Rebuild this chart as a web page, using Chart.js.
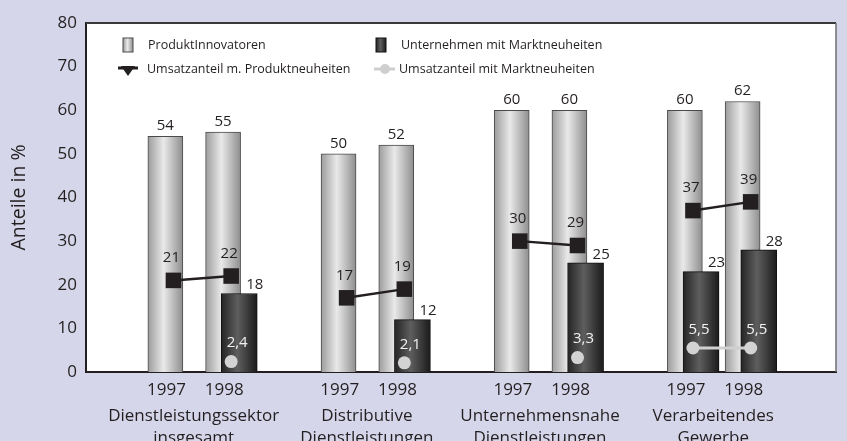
<!DOCTYPE html>
<html>
<head>
<meta charset="utf-8">
<script src="https://cdn.jsdelivr.net/npm/chart.js@4.4.1/dist/chart.umd.min.js"></script>
<style>
  html, body { margin: 0; padding: 0; background: #d6d6ea; }
  #wrap { width: 847px; height: 441px; }
</style>
</head>
<body>
<div id="wrap"><canvas id="chart"></canvas></div>
<script>
// data
const groupLabels = [
    ['Dienstleistungssektor', 'insgesamt'],
    ['Distributive', 'Dienstleistungen'],
    ['Unternehmensnahe', 'Dienstleistungen'],
    ['Verarbeitendes', 'Gewerbe']
];
const yearLabels = ['1997', '1998'];
const produktInnovatoren = [54, 55, 50, 52, 60, 60, 60, 62];
const unternehmenMarkt = [null, 18, null, 12, null, 25, 23, 28];
const umsatzProdukt = [21, 22, 17, 19, 30, 29, 37, 39];
const umsatzMarkt = [null, 2.4, null, 2.1, null, 3.3, 5.5, 5.5];
const yTicks = [0, 10, 20, 30, 40, 50, 60, 70, 80];

const TEXT = '#231f20';
const BG = '#d6d6ea';
const BAR_SHIFT = 0.14;   // light bar left, dark bar right of the year slot
const LABEL_SHIFT = 0.12;

// slot i -> x position: 3 units per group, 1 unit per year
const slotX = produktInnovatoren.map((v, i) => 1 + 3 * Math.floor(i / 2) + (i % 2));

function linePoints(values) {
    const pts = [];
    values.forEach((v, i) => {
        pts.push({ x: slotX[i], y: v });
        if (i % 2 === 1) pts.push({ x: slotX[i] + 1, y: null }); // break between groups
    });
    return pts;
}

const lightStops = [[0, '#9c9c9c'], [0.45, '#e9e9e9'], [1, '#8e8e8e']];
const darkStops = [[0, '#262626'], [0.45, '#5e5e5e'], [1, '#1c1c1c']];

function makeGradient(ctx, x0, x1, stops) {
    const g = ctx.createLinearGradient(x0, 0, x1, 0);
    stops.forEach(s => g.addColorStop(s[0], s[1]));
    return g;
}

function barFill(stops) {
    return (c) => {
        const chart = c.chart;
        if (!chart.chartArea || c.type !== 'data' || !chart.scales.x) return stops[1][1];
        const cx = chart.scales.x.getPixelForValue(c.raw.x);
        return makeGradient(chart.ctx, cx - 17.5, cx + 17.5, stops);
    };
}

const fmt = v => String(v).replace('.', ',');

const backgroundPlugin = {
    id: 'background',
    beforeDraw(chart) {
        const { ctx, chartArea: a } = chart;
        ctx.save();
        ctx.fillStyle = BG;
        ctx.fillRect(0, 0, chart.width, chart.height);
        ctx.fillStyle = '#ffffff';
        ctx.fillRect(a.left, a.top, a.right - a.left, a.bottom - a.top);
        ctx.restore();
    },
    afterDraw(chart) {
        const { ctx, chartArea: a } = chart;
        ctx.save();
        ctx.strokeStyle = '#3a3a3a';
        ctx.lineWidth = 2;
        ctx.beginPath();
        ctx.moveTo(a.left, a.top);
        ctx.lineTo(a.right, a.top);
        ctx.stroke();
        ctx.strokeStyle = '#6e6e6e';
        ctx.lineWidth = 1.5;
        ctx.beginPath();
        ctx.moveTo(a.right, a.top);
        ctx.lineTo(a.right, a.bottom);
        ctx.stroke();
        ctx.restore();
    }
};

const valueLabelPlugin = {
    id: 'valueLabels',
    afterDatasetsDraw(chart) {
        const ctx = chart.ctx;
        ctx.save();
        ctx.font = '15px "Open Sans", sans-serif';
        ctx.textBaseline = 'bottom';
        chart.data.datasets.forEach((ds, di) => {
            const meta = chart.getDatasetMeta(di);
            meta.data.forEach((el, i) => {
                const raw = ds.data[i];
                if (!raw || raw.y === null) return;
                const t = fmt(raw.y);
                if (di === 0) {
                    ctx.fillStyle = TEXT; ctx.textAlign = 'center';
                    ctx.fillText(t, el.x, el.y - 3);
                } else if (di === 1) {
                    ctx.fillStyle = TEXT; ctx.textAlign = 'left';
                    ctx.fillText(t, el.x + 7, el.y - 1);
                } else if (di === 2) {
                    ctx.fillStyle = TEXT; ctx.textAlign = 'center';
                    ctx.fillText(t, el.x - 2, el.y - 15);
                } else {
                    ctx.fillStyle = '#f2f2f2'; ctx.textAlign = 'center';
                    ctx.fillText(t, el.x + 6, el.y - 11);
                }
            });
        });
        ctx.restore();
    }
};

const legendPlugin = {
    id: 'boxLegend',
    afterDraw(chart) {
        const ctx = chart.ctx;
        const ds = chart.data.datasets;
        const cols = [128, 381];
        const rows = [45, 69];
        ctx.save();
        ctx.font = '12.5px "Open Sans", sans-serif';
        ctx.textBaseline = 'middle';
        ctx.textAlign = 'left';
        ctx.fillStyle = TEXT;
        // bars
        [[0, lightStops, '#4a4a4a'], [1, darkStops, '#111']].forEach(([di, stops, edge], k) => {
            const cx = cols[k], cy = rows[0];
            ctx.fillStyle = makeGradient(ctx, cx - 5, cx + 5, stops);
            ctx.fillRect(cx - 5, cy - 7, 10, 14);
            ctx.strokeStyle = edge; ctx.lineWidth = 1;
            ctx.strokeRect(cx - 5, cy - 7, 10, 14);
            ctx.fillStyle = TEXT;
            ctx.fillText(ds[di].label, cx + 20, cy);
        });
        // black line with triangle
        let cx = cols[0], cy = rows[1];
        ctx.strokeStyle = TEXT; ctx.lineWidth = 3;
        ctx.beginPath(); ctx.moveTo(cx - 10, cy - 1); ctx.lineTo(cx + 10, cy - 1); ctx.stroke();
        ctx.fillStyle = TEXT;
        ctx.beginPath(); ctx.moveTo(cx - 7, cy - 3); ctx.lineTo(cx + 7, cy - 3); ctx.lineTo(cx, cy + 7); ctx.closePath(); ctx.fill();
        ctx.fillText(ds[2].label, cx + 19, cy);
        // gray line with circle
        cx = cols[1];
        ctx.strokeStyle = '#cfcfcf'; ctx.lineWidth = 3;
        ctx.beginPath(); ctx.moveTo(cx - 7, cy); ctx.lineTo(cx + 14, cy); ctx.stroke();
        ctx.fillStyle = '#cfcfcf';
        ctx.beginPath(); ctx.arc(cx + 4, cy, 5, 0, Math.PI * 2); ctx.fill();
        ctx.fillStyle = TEXT;
        ctx.fillText(ds[3].label, cx + 18, cy);
        ctx.restore();
    }
};

Chart.defaults.font.family = '"Open Sans", sans-serif';
Chart.defaults.color = TEXT;

const ctx = document.getElementById('chart').getContext('2d');
const myChart = new Chart(ctx, {
    type: 'bar',
    data: {
        datasets: [
            {
                label: 'ProduktInnovatoren',
                data: produktInnovatoren.map((v, i) => ({ x: slotX[i] - BAR_SHIFT, y: v })),
                backgroundColor: barFill(lightStops),
                borderColor: '#4a4a4a',
                borderWidth: 1,
                barThickness: 35,
                grouped: false,
                order: 4
            },
            {
                label: 'Unternehmen mit Marktneuheiten',
                data: unternehmenMarkt.map((v, i) => ({ x: slotX[i] + BAR_SHIFT, y: v })),
                backgroundColor: barFill(darkStops),
                borderColor: '#111111',
                borderWidth: 1,
                barThickness: 36,
                grouped: false,
                order: 3
            },
            {
                type: 'line',
                label: 'Umsatzanteil m. Produktneuheiten',
                data: linePoints(umsatzProdukt),
                borderColor: TEXT,
                borderWidth: 2.5,
                pointStyle: 'rect',
                pointRadius: 11,
                pointBackgroundColor: TEXT,
                pointBorderWidth: 0,
                spanGaps: false,
                order: 1
            },
            {
                type: 'line',
                label: 'Umsatzanteil mit Marktneuheiten',
                data: linePoints(umsatzMarkt),
                borderColor: '#d0d0d0',
                borderWidth: 3,
                pointStyle: 'circle',
                pointRadius: 6.5,
                pointBackgroundColor: '#d3d3d3',
                pointBorderWidth: 0,
                spanGaps: false,
                order: 0
            }
        ]
    },
    options: {
        responsive: true,
        maintainAspectRatio: false,
        animation: false,
        events: [],
        layout: { padding: { top: 23, right: 4, left: 0, bottom: 0 } },
        plugins: {
            legend: { display: false },
            tooltip: { enabled: false }
        },
        scales: {
            x: {
                type: 'linear',
                min: -0.515,
                max: 12.478,
                offset: false,
                weight: 0,
                grid: { display: false, drawTicks: false },
                border: { display: true, color: TEXT, width: 2 },
                afterBuildTicks: s => { s.ticks = slotX.map(v => ({ value: v - LABEL_SHIFT })); },
                afterFit: s => { s.height = 30; },
                ticks: {
                    autoSkip: false,
                    maxRotation: 0,
                    padding: 8,
                    color: TEXT,
                    font: { size: 17 },
                    callback: (value, index) => yearLabels[index % 2]
                }
            },
            x2: {
                type: 'linear',
                position: 'bottom',
                min: -0.515,
                max: 12.478,
                offset: false,
                weight: 1,
                grid: { display: false, drawTicks: false },
                border: { display: false },
                afterBuildTicks: s => { s.ticks = groupLabels.map((g, k) => ({ value: 1.5 + 3 * k - 0.15 })); },
                afterFit: s => { s.height = 39; },
                ticks: {
                    autoSkip: false,
                    maxRotation: 0,
                    padding: 3,
                    color: TEXT,
                    font: { size: 17, lineHeight: 1.3 },
                    callback: (value, index) => groupLabels[index]
                }
            },
            y: {
                min: 0,
                max: 80,
                grid: { display: false, drawTicks: false },
                border: { display: true, color: TEXT, width: 2 },
                afterBuildTicks: s => { s.ticks = yTicks.map(v => ({ value: v })); },
                afterFit: s => { s.width = 86; },
                ticks: { padding: 9, color: TEXT, font: { size: 17 } },
                title: {
                    display: true,
                    text: 'Anteile in %',
                    color: TEXT,
                    font: { size: 19.5 },
                    padding: { top: 8, bottom: 0 }
                }
            }
        }
    },
    plugins: [backgroundPlugin, valueLabelPlugin, legendPlugin]
});
</script>
</body>
</html>
